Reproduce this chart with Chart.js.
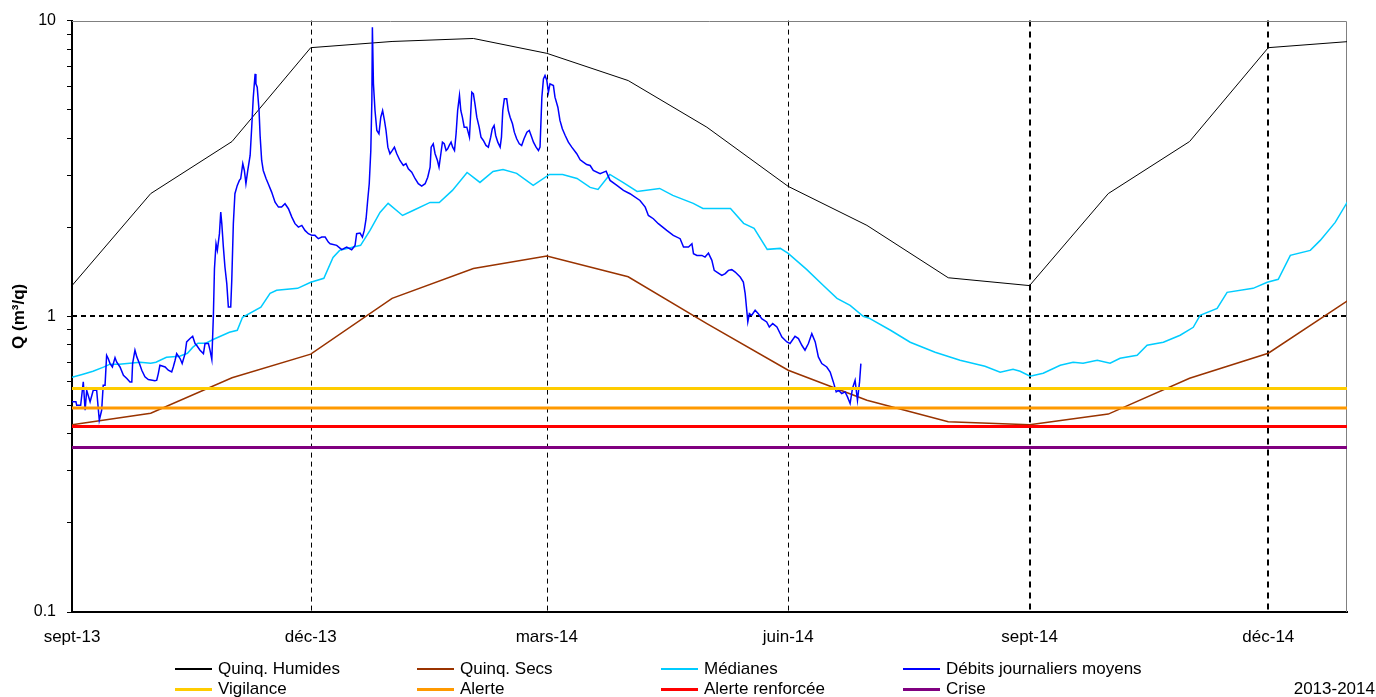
<!DOCTYPE html>
<html lang="fr">
<head>
<meta charset="utf-8">
<title>Débits 2013-2014</title>
<script src="https://cdn.jsdelivr.net/npm/chart.js@4.4.1/dist/chart.umd.min.js"></script>
<style>
  html, body { margin: 0; padding: 0; background: #fff; }
  #wrap { position: relative; width: 1376px; height: 697px; overflow: hidden;
          font-family: "Liberation Sans", Arial, sans-serif; }
  #graphe { position: absolute; left: 0; top: 0; }
  .leg { position: absolute; height: 20px; line-height: 20px; font-size: 17px; color: #000; white-space: nowrap; }
  .leg i { position: absolute; left: 0; width: 37px; }
  .leg span { position: absolute; left: 43px; top: 0; }
  #annee { position: absolute; right: 1px; top: 679px; height: 20px; line-height: 20px; font-size: 17px; color: #000; }
</style>
</head>
<body>
<div id="wrap">
  <canvas id="graphe" width="1376" height="697"></canvas>
  <div id="legende"></div>
  <div id="annee">2013-2014</div>
</div>
<script>
// axe des temps : jours depuis le 1er septembre 2013
const xTickJours = [0, 91, 181, 273, 365, 456];
const xTickLabels = ["sept-13", "déc-13", "mars-14", "juin-14", "sept-14", "déc-14"];
const yTicks = [0.1, 0.2, 0.3, 0.4, 0.5, 0.6, 0.7, 0.8, 0.9, 1, 2, 3, 4, 5, 6, 7, 8, 9, 10];
const yLabels = [0.1, 1, 10];

// valeurs mensuelles (1er de chaque mois)
const moisJours = [0, 30, 61, 91, 122, 153, 181, 212, 242, 273, 303, 334, 365, 395, 426, 456, 487];
const quinqHumides = [1.27, 2.6, 3.9, 8.1, 8.5, 8.7, 7.75, 6.27, 4.36, 2.75, 2.03, 1.35, 1.27, 2.6, 3.9, 8.1, 8.5];
const quinqSecs = [0.43, 0.47, 0.62, 0.745, 1.15, 1.45, 1.6, 1.36, 0.945, 0.657, 0.52, 0.44, 0.43, 0.467, 0.617, 0.75, 1.14];

// médianes
const medJours = [0, 4.2, 8, 12, 14.5, 18, 22, 26, 30, 32, 36, 41, 44, 46, 48, 51, 54, 60, 63, 65,
  72, 75.5, 78, 86, 91, 96, 99.5, 102, 110, 113.6, 117.4, 120.5, 126, 130, 136.5, 140, 145, 150.6, 155.5, 160.5,
  164.3, 169.5, 175.8, 182, 187, 192.5, 197.5, 200.5, 205, 210, 215.4, 224, 229, 236.8, 240.5, 251, 256, 260, 265, 270,
  273, 280, 286.3, 291.6, 296.6, 301.6, 304, 312, 319.5, 329, 338.5, 348, 353.8, 358.7, 361.4, 365.2, 370.2, 376.7, 381.6, 385.4,
  390.8, 395.7, 399.5, 406, 409.8, 416, 422.4, 427.4, 430, 436.5, 440.3, 450.2, 455.6, 459.8, 464.4, 472, 475.8, 481.5, 486.5];
const medValeurs = [0.622, 0.637, 0.652, 0.673, 0.689, 0.689, 0.694, 0.699, 0.694, 0.699, 0.727, 0.733, 0.75, 0.785, 0.811, 0.811, 0.836, 0.883, 0.897, 0.992,
  1.073, 1.196, 1.224, 1.243, 1.303, 1.344, 1.582, 1.671, 1.738, 1.952, 2.245, 2.41, 2.193, 2.28, 2.427, 2.427, 2.666, 3.065, 2.836, 3.09,
  3.138, 3.044, 2.771, 3.018, 3.018, 2.925, 2.728, 2.687, 3.018, 2.836, 2.644, 2.706, 2.564, 2.409, 2.317, 2.317, 2.062, 1.983, 1.684, 1.697,
  1.632, 1.441, 1.273, 1.15, 1.089, 1.0, 0.984, 0.897, 0.817, 0.756, 0.71, 0.678, 0.647, 0.662, 0.652, 0.627, 0.642, 0.683, 0.699, 0.694,
  0.71, 0.694, 0.721, 0.738, 0.798, 0.817, 0.863, 0.918, 1.008, 1.064, 1.205, 1.243, 1.303, 1.334, 1.607, 1.671, 1.806, 2.078, 2.465];

// débits journaliers moyens
const debitsJours = [
  0, 1.5, 1.8, 3.3, 4.3, 5.0, 5.6, 6.9, 8.1, 9.4, 10.4, 11.3, 11.9, 12.6, 13.2, 13.8, 14.5, 15.4, 16.4, 17,
  18.3, 19.6, 20.9, 22.1, 22.8, 23.1, 24, 24.7, 25.7, 26.6, 27.8, 29.1, 31.6, 32.3, 32.9, 33.5, 35.5, 36.7, 38, 38.6,
  39.3, 39.9, 41.2, 42, 43.1, 43.7, 45, 46, 46.9, 47.5, 48.8, 50.1, 50.7, 52, 52.6, 53.3, 53.9,
  54.3, 54.9, 55.4, 56.2, 56.7, 57.1, 57.7, 58.3, 59, 59.6, 60.5, 60.9, 61.5, 62.1, 63, 63.8, 64.3, 65.1, 65.7, 66.3,
  67, 67.9, 68.5, 69.1, 69.8, 70.1, 70.6, 71.3, 71.7, 72.3, 72.9, 74, 74.8, 76.1, 77.4, 78.7, 79.9, 81.2, 82.5, 83.8,
  85, 86.3, 87.6, 88.8, 90.1, 91.4, 92.6, 93.9, 95.2, 96.5, 97.7,
  98.4, 100.9, 102.8, 104.7, 106.6, 107.9, 108.5, 109.8, 110.7, 111.4, 112.1, 112.7, 113.3, 113.9, 114.3, 114.5, 114.9, 115.5, 116.2, 117,
  117.7, 118.4, 119.1, 119.7, 120.4, 121.2, 122.1, 122.9, 123.8, 125, 126.3, 127.3, 128.2, 129.5, 130.8, 132, 133.3, 134.6, 135.6, 136.5,
  136.9, 137.7, 138.4, 139.3, 139.9, 140.6, 141.2, 141.9, 142.6, 143.2, 143.8, 144.5, 145.1, 145.8, 146.4, 147, 147.7, 148.2, 148.8, 149.5,
  150.5, 151.5, 152.4, 153, 153.6, 154.3, 155.2, 155.9, 156.8, 157.8, 158.7, 159.6, 160.2, 160.9, 161.5, 162.3, 163.2, 163.7, 164.2, 164.8,
  165.7, 166.3, 167, 167.9, 168.6, 169.5, 170.5, 171.4, 172.3, 173.4, 174.3, 175, 175.9, 176.9, 177.8, 178.4, 179.1, 179.7, 180.3, 181,
  181.6, 182.2, 183.5, 184.1, 185.2, 186, 186.9, 188, 189.2, 190.5, 192.4, 193.7, 194.9, 196.2, 197.5,
  198.7, 201.3, 203.6, 205.1, 207.7, 210.2, 212.7, 216.5, 218.5, 219.7, 221.6, 223.5, 226.7, 229.2, 231.8, 233.1, 235, 236.3, 236.9, 238.2,
  240.1, 241.3, 242.6, 243.9, 244.8, 245.8, 247.7, 249, 250.2, 251.5, 252.8, 254.7, 255.9, 256.6, 257.2, 257.6, 258.2, 259.1, 260.4, 261.6,
  262.9, 264.8, 265.8, 267.1, 268.7, 270.6, 272.5, 273.7, 275.6, 276.9, 278.2, 279.4, 280.7, 282, 283.3, 284.5, 285.8, 287.7, 289, 290.2,
  291.3, 292.2, 293.4, 294.7, 295.6, 296.6, 297.5, 298.5, 299.4, 300.2, 300.7];
const debitsValeurs = [
  0.514, 0.514, 0.500, 0.500, 0.600, 0.481, 0.562, 0.514, 0.562, 0.562, 0.445, 0.481, 0.585, 0.585, 0.738, 0.720, 0.692, 0.674, 0.725, 0.701,
  0.674, 0.632, 0.616, 0.600, 0.600, 0.692, 0.768, 0.729, 0.692, 0.657, 0.624, 0.611, 0.605, 0.608, 0.640, 0.683, 0.674, 0.657, 0.648, 0.674,
  0.710, 0.748, 0.720, 0.692, 0.748, 0.819, 0.841, 0.856, 0.809, 0.798, 0.768, 0.748, 0.809, 0.809, 0.768, 0.714, 1.008,
  1.449, 1.760, 1.671, 1.903, 2.251, 2.057, 1.714, 1.468, 1.290, 1.075, 1.075, 1.323, 2.057, 2.597, 2.771, 2.881, 2.919, 3.281, 3.113, 2.808,
  3.113, 3.499, 4.361, 5.507, 6.604, 6.11, 5.953, 4.966, 4.088, 3.365, 3.113, 2.919, 2.808, 2.630, 2.433, 2.340, 2.340, 2.403, 2.311, 2.165,
  2.057, 2.003, 2.030, 1.952, 1.903, 1.878, 1.878, 1.830, 1.853, 1.853, 1.782,
  1.760, 1.737, 1.680, 1.714, 1.680, 1.737, 1.903, 1.911, 1.853, 1.952, 2.138, 2.465, 2.808, 3.638, 5.367, 9.493, 6.11, 4.966, 4.25, 4.143,
  4.714, 4.966, 4.595, 4.25, 3.733, 3.546, 3.638, 3.733, 3.546, 3.365, 3.236, 3.281, 3.155, 3.073, 2.919, 2.808, 2.755, 2.808, 2.955, 3.194,
  3.733, 3.832, 3.546, 3.365, 3.194, 3.546, 3.88, 3.832, 3.638, 3.686, 3.782, 3.88, 3.733, 3.638, 4.143, 4.966, 5.58, 4.966, 4.714, 4.361,
  4.361, 4.034, 5.725, 5.654, 5.231, 4.714, 4.361, 4.034, 3.932, 3.782, 3.733, 4.034, 4.306, 4.419, 4.088, 3.88, 3.733, 4.034, 4.966, 5.439,
  5.439, 4.966, 4.714, 4.478, 4.195, 3.985, 3.832, 3.782, 3.985, 4.195, 4.25, 4.088, 3.88, 3.733, 3.638, 3.733, 5.507, 6.353, 6.52, 6.271,
  5.725, 6.11, 6.031, 5.507, 5.094, 4.595, 4.306, 4.088, 3.88, 3.733, 3.546, 3.383, 3.32, 3.261, 3.236,
  3.113, 3.034, 3.097, 2.881, 2.771, 2.666, 2.597, 2.465, 2.340, 2.194, 2.138, 2.057, 1.952, 1.878, 1.830, 1.714, 1.714, 1.760, 1.628, 1.607,
  1.607, 1.586, 1.636, 1.546, 1.430, 1.411, 1.375, 1.394, 1.430, 1.438, 1.411, 1.358, 1.306, 1.193, 1.048, 0.957, 1.021, 1.008, 1.048, 1.021,
  0.982, 0.957, 0.920, 0.945, 0.920, 0.851, 0.819, 0.809, 0.856, 0.841, 0.798, 0.768, 0.809, 0.874, 0.819, 0.729, 0.692, 0.674, 0.648, 0.600,
  0.555, 0.562, 0.548, 0.555, 0.534, 0.507, 0.570, 0.608, 0.520, 0.600, 0.692];

// seuils
const seuilVigilance = 0.57;
const seuilAlerte = 0.49;
const seuilRenforcee = 0.424;
const seuilCrise = 0.36;
const finJours = 486;

// position de la légende (colonnes / lignes)
const legendeX = [175, 417, 661, 903];
const legendeY = [669, 689];

Chart.defaults.font.family = '"Liberation Sans", Arial, sans-serif';
Chart.defaults.color = "#000";

function points(jours, valeurs) {
  return jours.map((j, i) => ({ x: j, y: valeurs[i] }));
}
function seuil(v) {
  return [{ x: 0, y: v }, { x: finJours, y: v }];
}

const datasets = [
  { label: "Quinq. Humides", data: points(moisJours, quinqHumides), borderColor: "#000000", borderWidth: 1, order: 8 },
  { label: "Quinq. Secs", data: points(moisJours, quinqSecs), borderColor: "#993300", borderWidth: 1.5, order: 7 },
  { label: "Médianes", data: points(medJours, medValeurs), borderColor: "#00CCFF", borderWidth: 1.5, order: 6 },
  { label: "Débits journaliers moyens", data: points(debitsJours, debitsValeurs), borderColor: "#0000FF", borderWidth: 1.5, order: 5 },
  { label: "Vigilance", data: seuil(seuilVigilance), borderColor: "#FFCC00", borderWidth: 3, order: 4 },
  { label: "Alerte", data: seuil(seuilAlerte), borderColor: "#FF9900", borderWidth: 3, order: 3 },
  { label: "Alerte renforcée", data: seuil(seuilRenforcee), borderColor: "#FF0000", borderWidth: 3, order: 2 },
  { label: "Crise", data: seuil(seuilCrise), borderColor: "#800080", borderWidth: 3, order: 1 },
];

/* grille pointillée + cadre gris */
const grillePlugin = {
  id: "grille",
  beforeDatasetsDraw(chart) {
    const { ctx, chartArea: a, scales: { x, y } } = chart;
    ctx.save();
    ctx.strokeStyle = "#000";
    xTickJours.forEach((j, i) => {
      if (i === 0) return;
      const epais = j >= 365;
      const px = Math.round(x.getPixelForValue(j)) + (epais ? 0 : 0.5);
      ctx.lineWidth = epais ? 2 : 1;
      ctx.setLineDash(epais ? [6, 5] : [5, 4]);
      ctx.beginPath();
      ctx.moveTo(px, a.top);
      ctx.lineTo(px, a.bottom);
      ctx.stroke();
    });
    const py = Math.round(y.getPixelForValue(1));
    ctx.lineWidth = 2;
    ctx.setLineDash([5, 4]);
    ctx.beginPath();
    ctx.moveTo(a.left, py);
    ctx.lineTo(a.right, py);
    ctx.stroke();

    ctx.setLineDash([]);
    ctx.strokeStyle = "#808080";
    ctx.lineWidth = 1;
    ctx.beginPath();
    ctx.moveTo(a.left, Math.round(a.top) + 0.5);
    ctx.lineTo(Math.round(a.right) - 0.5, Math.round(a.top) + 0.5);
    ctx.lineTo(Math.round(a.right) - 0.5, a.bottom);
    ctx.stroke();
    ctx.restore();
  },
};

const ctx = document.getElementById("graphe").getContext("2d");
const chart = new Chart(ctx, {
  type: "line",
  data: { datasets: datasets },
  options: {
    responsive: false,
    animation: false,
    devicePixelRatio: 1,
    layout: { padding: { top: 20, right: 29, bottom: 0, left: 0 } },
    elements: { point: { radius: 0 }, line: { tension: 0, fill: false } },
    plugins: { legend: { display: false }, tooltip: { enabled: false } },
    scales: {
      x: {
        type: "linear",
        min: 0,
        max: finJours,
        grid: { display: false, drawTicks: false },
        border: { color: "#000", width: 2 },
        afterBuildTicks: (s) => { s.ticks = xTickJours.map((v) => ({ value: v })); },
        afterFit: (s) => { s.height = 85; },
        ticks: {
          autoSkip: false,
          maxRotation: 0,
          padding: 15,
          font: { size: 17 },
          callback: (v, i) => xTickLabels[i],
        },
      },
      y: {
        type: "logarithmic",
        min: 0.1,
        max: 10,
        grid: { display: true, drawOnChartArea: false, drawTicks: true, tickLength: 5, color: "#000" },
        border: { color: "#000", width: 2 },
        afterBuildTicks: (s) => { s.ticks = yTicks.map((v) => ({ value: v })); },
        afterFit: (s) => { s.width = 72; },
        title: {
          display: true,
          text: "Q (m³/q)",
          font: { size: 17, weight: "bold" },
          padding: { top: 9, bottom: 0 },
        },
        ticks: {
          autoSkip: false,
          padding: 11,
          font: { size: 16 },
          callback: (v) => (yLabels.includes(v) ? String(v) : ""),
        },
      },
    },
  },
  plugins: [grillePlugin],
});

// légende HTML sur deux lignes
const legende = document.getElementById("legende");
datasets.forEach((ds, i) => {
  const el = document.createElement("div");
  el.className = "leg";
  el.style.left = legendeX[i % 4] + "px";
  el.style.top = legendeY[Math.floor(i / 4)] - 10 + "px";
  const h = Math.max(2, ds.borderWidth);
  el.innerHTML = `<i style="top:${10 - h / 2}px;height:${h}px;background:${ds.borderColor}"></i><span>${ds.label}</span>`;
  legende.appendChild(el);
});
</script>
</body>
</html>
